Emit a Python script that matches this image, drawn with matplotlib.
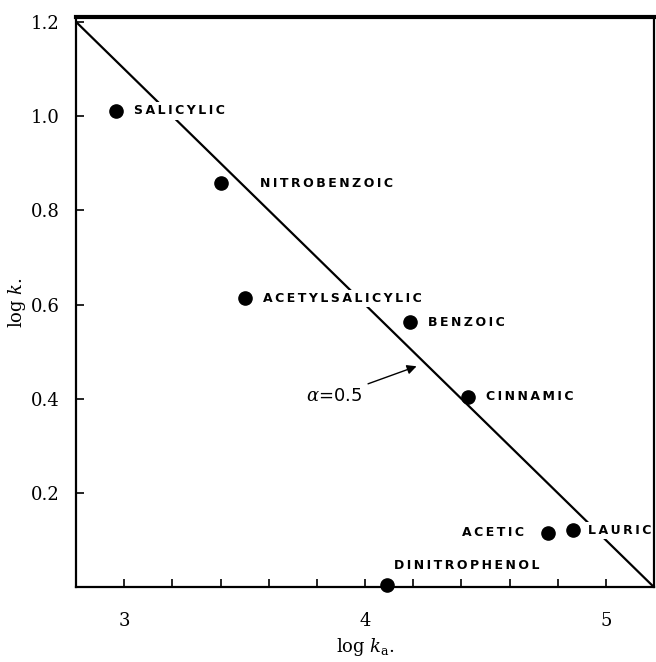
import matplotlib
matplotlib.use("Agg")
import matplotlib.pyplot as plt

# acids: log ka (x), log k (y)
acids = ['SALICYLIC', 'NITROBENZOIC', 'ACETYLSALICYLIC', 'BENZOIC',
         'CINNAMIC', 'ACETIC', 'LAURIC', 'DINITROPHENOL']
log_ka = [2.965, 3.40, 3.50, 4.186, 4.427, 4.76, 4.865, 4.09]
log_k = [1.011, 0.858, 0.613, 0.562, 0.404, 0.116, 0.121, 0.005]

# straight line alpha = 0.5
line_x = [2.8, 5.2]
line_y = [1.2, 0.0]

plt.rcParams['mathtext.fontset'] = 'dejavuserif'

fig = plt.figure(figsize=(6.56, 6.62), dpi=100)
ax = fig.add_axes([0.116, 0.113, 0.881, 0.861])

ax.plot(line_x, line_y, color='black', lw=1.6, zorder=1)
ax.plot(log_ka, log_k, 'o', color='black', ms=9.5, zorder=3, clip_on=False)

lab_font = dict(family='DejaVu Sans', weight='bold', fontsize=9)
box = dict(facecolor='white', edgecolor='none', pad=1.5)


def spaced(s):
    # wide letter spacing like the stencil lettering
    return '\u2009'.join(s)


for name, x, y in zip(acids, log_ka, log_k):
    if name == 'ACETIC':
        ax.text(x - 0.1, y, spaced(name), ha='right', va='center', zorder=2, bbox=box, **lab_font)
    elif name == 'DINITROPHENOL':
        ax.text(x + 0.03, y + 0.04, spaced(name), ha='left', va='center', zorder=2, bbox=box, **lab_font)
    elif name == 'NITROBENZOIC':
        ax.text(x + 0.165, y, spaced(name), ha='left', va='center', zorder=2, bbox=box, **lab_font)
    elif name == 'LAURIC':
        ax.text(x + 0.062, y, spaced(name), ha='left', va='center', zorder=2, bbox=box, **lab_font)
    else:
        ax.text(x + 0.075, y, spaced(name), ha='left', va='center', zorder=2, bbox=box, **lab_font)

ax.annotate(r'$\alpha$=0.5', xy=(4.214, 0.469), xytext=(3.99, 0.406),
            ha='right', va='center', fontsize=13, family='DejaVu Sans',
            arrowprops=dict(arrowstyle='-|>', color='black', lw=1.0,
                            shrinkA=2, shrinkB=0, mutation_scale=14))

ax.set_xlim(2.8, 5.2)
ax.set_ylim(0, 1.21)
ax.set_xticks([3, 4, 5])
ax.set_xticklabels(['3', '4', '5'])
ax.set_xticks([3.2, 3.4, 3.6, 3.8, 4.2, 4.4, 4.6, 4.8], minor=True)
ax.set_yticks([0.2, 0.4, 0.6, 0.8, 1.0, 1.2])
ax.set_yticklabels(['0.2', '0.4', '0.6', '0.8', '1.0', '1.2'])
ax.tick_params(axis='both', which='both', direction='in', length=6, width=1.2,
               labelsize=13)
ax.tick_params(axis='x', which='major', pad=18)
ax.tick_params(axis='y', which='major', pad=12)
for lab in ax.get_xticklabels() + ax.get_yticklabels():
    lab.set_family('DejaVu Serif')

for side in ['left', 'bottom', 'right']:
    ax.spines[side].set_linewidth(1.6)
ax.spines['top'].set_linewidth(3)

ax.set_xlabel(r'log $k_{\rm a}$.', fontsize=13, family='DejaVu Serif', labelpad=4)
ax.set_ylabel(r'log $k$.', fontsize=13, family='DejaVu Serif', labelpad=2)

fig.savefig('out.png', dpi=100)
